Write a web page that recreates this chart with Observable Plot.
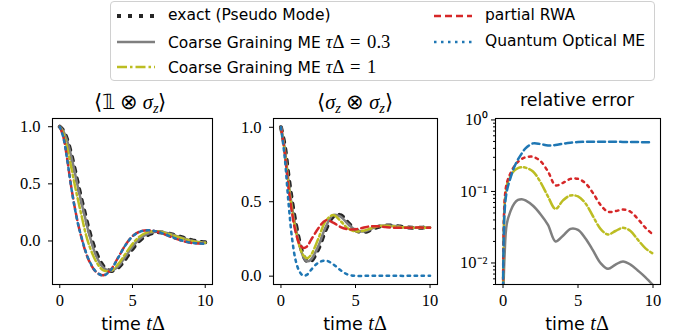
<!DOCTYPE html>
<html>
<head>
<meta charset="utf-8">
<script src="https://cdn.jsdelivr.net/npm/d3@7"></script>
<script src="https://cdn.jsdelivr.net/npm/@observablehq/plot@0.6"></script>
<style>
  body { margin:0; background:#fff; }
  #root { position:relative; width:688px; height:334px; background:#fff; overflow:hidden; }
  .abs { position:absolute; white-space:nowrap; }
  .sans { font-family:"DejaVu Sans", sans-serif; }
  .m { font-family:"Liberation Serif", serif; font-size:1.15em; }
  .m sub { font-size:0.7em; vertical-align:-0.3em; line-height:0; }
  .title { font-size:17.5px; line-height:1; transform:translate(-50%,-50%); }
  .title.m { font-size:20.5px; }
  .xlab { font-size:17.5px; line-height:1; transform:translate(-50%,-50%); }
  #legend { position:absolute; left:110px; top:1px; width:545px; height:80px; border:1px solid #d0d0d0; border-radius:4px; box-sizing:border-box; }
  .lrow { position:absolute; font-size:15.5px; line-height:1; transform:translateY(-50%); white-space:nowrap; }
  .lrow .m { font-size:1.2em; word-spacing:2px; }
  .plot { position:absolute; top:90px; }
  .plot text { font-family:"Liberation Serif", serif; }
</style>
</head>
<body>
<div id="root">
  <div id="legend"></div>
  <div class="abs title m" style="left:130px;top:102px">⟨𝟙 ⊗ <i>σ</i><sub><i>z</i></sub>⟩</div>
  <div class="abs title m" style="left:355px;top:102px">⟨<i>σ</i><sub><i>z</i></sub> ⊗ <i>σ</i><sub><i>z</i></sub>⟩</div>
  <div class="abs title sans" style="left:577px;top:101px">relative error</div>
  <div class="abs xlab sans" style="left:133px;top:323px">time <span class="m"><i>t</i>Δ</span></div>
  <div class="abs xlab sans" style="left:355px;top:323px">time <span class="m"><i>t</i>Δ</span></div>
  <div class="abs xlab sans" style="left:577px;top:323px">time <span class="m"><i>t</i>Δ</span></div>
</div>
<script>
// ---------- data ----------
const T = [0,0.25,0.5,0.75,1,1.25,1.5,1.75,2,2.5,3,3.5,4,4.5,5,5.5,6,6.5,7,7.5,8,8.5,9,9.5,10];

// panel 1: <1 ⊗ σz>
const p1Exact = [1.0,0.965,0.89,0.78,0.645,0.5,0.36,0.23,0.1,-0.1,-0.22,-0.262,-0.235,-0.16,-0.07,0.005,0.05,0.072,0.075,0.065,0.047,0.028,0.01,-0.005,-0.012];
const p1CG03  = [1.0,0.96,0.88,0.76,0.62,0.47,0.33,0.2,0.07,-0.13,-0.235,-0.262,-0.225,-0.14,-0.05,0.02,0.06,0.078,0.078,0.065,0.045,0.025,0.005,-0.008,-0.013];
const p1CG1   = [1.0,0.94,0.82,0.67,0.51,0.36,0.22,0.08,-0.03,-0.18,-0.258,-0.262,-0.205,-0.115,-0.025,0.04,0.075,0.085,0.078,0.06,0.04,0.02,0.002,-0.01,-0.015];
const p1RWA   = [1.0,0.91,0.725,0.505,0.315,0.155,0.025,-0.085,-0.17,-0.272,-0.3,-0.252,-0.148,-0.038,0.042,0.082,0.094,0.087,0.068,0.043,0.018,-0.002,-0.016,-0.022,-0.023];
const p1QO    = [1.0,0.905,0.72,0.5,0.31,0.15,0.03,-0.08,-0.165,-0.27,-0.302,-0.255,-0.15,-0.04,0.04,0.08,0.093,0.088,0.07,0.045,0.02,0.0,-0.015,-0.022,-0.024];

// panel 2: <σz ⊗ σz>
const p2Exact = [1.0,0.88,0.68,0.5,0.35,0.23,0.14,0.1,0.1,0.18,0.31,0.4,0.41,0.36,0.31,0.295,0.31,0.33,0.34,0.34,0.333,0.327,0.325,0.326,0.328];
const p2CG03  = [1.0,0.86,0.64,0.46,0.32,0.21,0.13,0.1,0.11,0.2,0.33,0.41,0.4,0.35,0.31,0.3,0.315,0.335,0.34,0.338,0.332,0.327,0.325,0.326,0.328];
const p2CG1   = [1.0,0.84,0.62,0.44,0.3,0.2,0.14,0.12,0.14,0.25,0.37,0.41,0.37,0.32,0.3,0.305,0.32,0.335,0.338,0.335,0.33,0.326,0.325,0.325,0.326];
const p2RWA   = [1.0,0.83,0.6,0.42,0.29,0.215,0.19,0.2,0.24,0.32,0.375,0.36,0.33,0.315,0.315,0.325,0.335,0.335,0.33,0.326,0.325,0.325,0.326,0.326,0.326];
const p2QO    = [1.0,0.8,0.5,0.25,0.1,0.03,0.003,0.01,0.04,0.09,0.105,0.08,0.04,0.01,0.002,0.002,0.003,0.003,0.003,0.003,0.002,0.002,0.002,0.002,0.002];

// panel 3: relative error (log)
const T3 = [0,0.1,0.25,0.5,0.75,1,1.25,1.5,2,2.5,3,3.5,4,4.5,5,5.5,6,6.5,7,7.5,8,8.5,9,9.5,10];
const p3CG03 = [0.002,0.012,0.035,0.053,0.068,0.076,0.078,0.075,0.063,0.048,0.034,0.02,0.024,0.03,0.029,0.022,0.015,0.01,0.0083,0.0095,0.0105,0.0095,0.0078,0.0063,0.0049];
const p3CG1  = [0.003,0.06,0.12,0.165,0.195,0.212,0.218,0.215,0.19,0.135,0.085,0.057,0.075,0.088,0.085,0.068,0.045,0.03,0.025,0.028,0.031,0.028,0.021,0.016,0.0135];
const p3RWA  = [0.003,0.07,0.13,0.18,0.225,0.26,0.285,0.3,0.305,0.265,0.19,0.122,0.132,0.15,0.15,0.13,0.095,0.065,0.052,0.053,0.056,0.052,0.041,0.031,0.025];
const p3QO   = [0.003,0.05,0.1,0.155,0.22,0.28,0.34,0.4,0.47,0.46,0.44,0.445,0.465,0.48,0.49,0.495,0.495,0.495,0.495,0.495,0.493,0.49,0.49,0.488,0.487];

const xTicks = [0,5,10];
const linTicks = [0,0.5,1];
const logTicks = [0.01,0.1,1];
const logTickLabels = ["10⁻²","10⁻¹","10⁰"];
const logMinor = [0.005,0.006,0.007,0.008,0.009,0.02,0.03,0.04,0.05,0.06,0.07,0.08,0.09,0.2,0.3,0.4,0.5,0.6,0.7,0.8,0.9];

const legendLabels = ["exact (Pseudo Mode)", "Coarse Graining ME", "Coarse Graining ME", "partial RWA", "Quantum Optical ME"];

// ---------- styles ----------
const C = {exact:"#262626", grey:"#7f7f7f", olive:"#bcbd22", red:"#d62728", blue:"#1f77b4"};
const S = {
  exact:{stroke:C.exact, strokeWidth:4, strokeDasharray:"4,7"},
  cg03:{stroke:C.grey, strokeWidth:2.5},
  cg1:{stroke:C.olive, strokeWidth:2.5, strokeDasharray:"10,3,2.5,3"},
  dash:(c)=>({stroke:c, strokeWidth:2.5, strokeDasharray:"7,4"}),
  dot:(c)=>({stroke:c, strokeWidth:2.5, strokeDasharray:"2.5,4.5"})
};

const rows = (ts, vs) => ts.map((t,i)=>({t, v:vs[i]}));
const line = (ts, vs, st) => Plot.line(rows(ts,vs), {x:"t", y:"v", curve:"catmull-rom", clip:true, ...st});
const TF = "Liberation Serif";

function panel({left, width, mL, mR, y, yAxis, lines}) {
  const svg = Plot.plot({
    width, height:244, marginTop:28, marginBottom:50, marginLeft:mL, marginRight:mR,
    style:{fontFamily:TF, fontSize:"16px", color:"#000", background:"transparent", overflow:"visible"},
    x:{domain:[-0.5,10.5]},
    y,
    marks:[
      ...lines,
      Plot.frame({stroke:"#000", strokeWidth:1.1}),
      Plot.axisX({ticks:xTicks, tickSize:4, tickPadding:6, label:null, tickFormat:d=>String(d), fontSize:16.5, fontFamily:TF}),
      ...yAxis
    ]
  });
  svg.classList.add("plot");
  svg.style.left = left + "px";
  document.getElementById("root").appendChild(svg);
}

const linAxis = [Plot.axisY({ticks:linTicks, tickSize:4, tickPadding:8, label:null, tickFormat:d=>d.toFixed(1), fontSize:16.5, fontFamily:TF})];

panel({left:0, width:225, mL:52, mR:13,
  y:{domain:[-0.381,1.072]}, yAxis:linAxis,
  lines:[line(T,p1Exact,S.exact), line(T,p1CG03,S.cg03), line(T,p1CG1,S.cg1), line(T,p1RWA,S.dash(C.red)), line(T,p1QO,S.dot(C.blue))]});

panel({left:225, width:225, mL:48, mR:13,
  y:{domain:[-0.056,1.059]}, yAxis:linAxis,
  lines:[line(T,p2Exact,S.exact), line(T,p2CG03,S.cg03), line(T,p2CG1,S.cg1), line(T,p2RWA,S.dash(C.red)), line(T,p2QO,S.dot(C.blue))]});

panel({left:450, width:238, mL:45, mR:28,
  y:{type:"log", domain:[0.005,1.047]},
  yAxis:[
    Plot.axisY({ticks:logTicks, tickSize:4, tickPadding:4, label:null, tickFormat:d=>logTickLabels[logTicks.indexOf(d)], fontSize:16.5, fontFamily:TF}),
    Plot.axisY({ticks:logMinor, tickSize:2, label:null, tickFormat:()=>""})
  ],
  lines:[line(T3,p3CG03,S.cg03), line(T3,p3CG1,S.cg1), line(T3,p3RWA,S.dot(C.red)), line(T3,p3QO,S.dash(C.blue))]});

// ---------- legend ----------
const leg = document.getElementById("legend");
const items = [
  {col:0,row:0, st:S.exact, html:legendLabels[0]},
  {col:0,row:1, st:S.cg03, html:legendLabels[1]+' <span class="m"><i>τ</i>Δ = 0.3</span>'},
  {col:0,row:2, st:S.cg1, html:legendLabels[2]+' <span class="m"><i>τ</i>Δ = 1</span>'},
  {col:1,row:0, st:S.dash(C.red), html:legendLabels[3]},
  {col:1,row:1, st:S.dot(C.blue), html:legendLabels[4]}
];
const rowY = [14, 40, 64.5];
const colX = [6, 323];
for (const it of items) {
  const ns = "http://www.w3.org/2000/svg";
  const s = document.createElementNS(ns,"svg");
  s.setAttribute("width",38); s.setAttribute("height",10);
  s.style.position="absolute"; s.style.left=colX[it.col]+"px"; s.style.top=(rowY[it.row]-5)+"px";
  const l = document.createElementNS(ns,"line");
  l.setAttribute("x1",0); l.setAttribute("x2",38); l.setAttribute("y1",5); l.setAttribute("y2",5);
  l.setAttribute("stroke",it.st.stroke); l.setAttribute("stroke-width",it.st.strokeWidth);
  if (it.st.strokeDasharray) l.setAttribute("stroke-dasharray",it.st.strokeDasharray);
  s.appendChild(l); leg.appendChild(s);
  const d = document.createElement("div");
  d.className="lrow sans"; d.innerHTML=it.html;
  d.style.left=(colX[it.col]+51)+"px"; d.style.top=rowY[it.row]+"px";
  leg.appendChild(d);
}
</script>
</body>
</html>
